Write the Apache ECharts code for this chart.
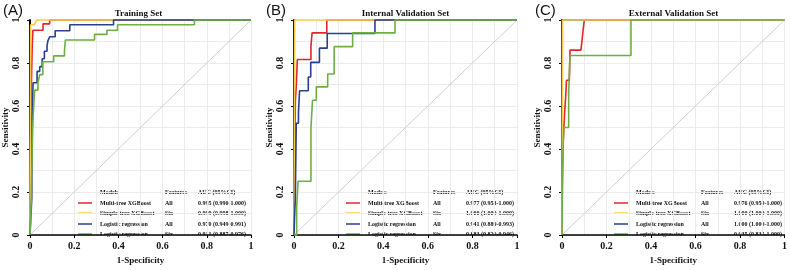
<!DOCTYPE html>
<html>
<head>
<meta charset="utf-8">
<script src="https://cdn.jsdelivr.net/npm/echarts@6/dist/echarts.min.js"></script>
<style>
  html, body { margin: 0; padding: 0; background: #fff; }
  #main { width: 790px; height: 270px; }
</style>
</head>
<body>
<div id="main"></div>
<script>
// ROC points [1-specificity, sensitivity]
var trainRed = [[0,0],[0.004,0],[0.004,0.58],[0.01,0.58],[0.01,0.88],[0.013,0.88],[0.013,0.952],[0.059,0.952],[0.059,0.982],[0.089,0.982],[0.089,1],[1,1]];
var trainYellow = [[0,0],[0.003,0],[0.003,0.978],[0.021,0.978],[0.03,1],[1,1]];
var trainBlue = [[0,0],[0.008,0],[0.008,0.17],[0.01,0.17],[0.01,0.55],[0.014,0.55],[0.014,0.708],[0.032,0.708],[0.032,0.761],[0.044,0.761],[0.044,0.783],[0.055,0.783],[0.055,0.82],[0.065,0.82],[0.065,0.855],[0.077,0.855],[0.077,0.88],[0.081,0.88],[0.081,0.903],[0.089,0.903],[0.089,0.922],[0.114,0.922],[0.114,0.95],[0.18,0.95],[0.18,0.978],[0.378,0.978],[0.378,1],[1,1]];
var trainGreen = [[0,0],[0.006,0],[0.006,0.17],[0.01,0.17],[0.01,0.4],[0.014,0.4],[0.014,0.55],[0.021,0.55],[0.021,0.674],[0.036,0.674],[0.036,0.708],[0.044,0.708],[0.044,0.746],[0.058,0.746],[0.058,0.806],[0.107,0.806],[0.107,0.833],[0.156,0.833],[0.156,0.858],[0.16,0.858],[0.16,0.907],[0.292,0.907],[0.292,0.933],[0.348,0.933],[0.348,0.952],[0.396,0.952],[0.396,0.978],[0.744,0.978],[0.744,1],[1,1]];

var intRed = [[0,0],[0.003,0],[0.003,0.37],[0.006,0.37],[0.006,0.62],[0.01,0.62],[0.01,0.69],[0.015,0.69],[0.015,0.816],[0.076,0.816],[0.076,0.876],[0.081,0.876],[0.081,0.94],[0.147,0.94],[0.147,1],[1,1]];
var intYellow = [[0,0],[0.003,0],[0.003,1],[1,1]];
var intBlue = [[0,0],[0.002,0],[0.002,0.07],[0.006,0.07],[0.006,0.17],[0.01,0.17],[0.01,0.52],[0.02,0.52],[0.02,0.57],[0.025,0.57],[0.025,0.671],[0.064,0.671],[0.064,0.735],[0.075,0.735],[0.075,0.803],[0.114,0.803],[0.114,0.869],[0.149,0.869],[0.149,0.937],[0.363,0.937],[0.363,1],[1,1]];
var intGreen = [[0,0],[0.012,0],[0.012,0.126],[0.018,0.126],[0.018,0.25],[0.076,0.25],[0.076,0.5],[0.083,0.5],[0.083,0.627],[0.1,0.627],[0.1,0.689],[0.151,0.689],[0.151,0.749],[0.18,0.749],[0.18,0.876],[0.263,0.876],[0.263,0.94],[0.453,0.94],[0.453,1],[1,1]];

var extRed = [[0,0],[0,0.14],[0.005,0.43],[0.012,0.57],[0.018,0.67],[0.02,0.72],[0.033,0.72],[0.036,0.86],[0.085,0.86],[0.1,1],[1,1]];
var extYellow = [[0,0],[0.003,0],[0.003,1],[1,1]];
var extBlue = [[0,0],[0,1],[1,1]];
var extGreen = [[0,0],[0.003,0],[0.003,0.33],[0.008,0.33],[0.008,0.5],[0.03,0.5],[0.03,0.664],[0.036,0.664],[0.036,0.835],[0.31,0.835],[0.31,1],[1,1]];

var diagonal = [[0,0],[1,1]];

var models = ['Multi-tree XGBoost', 'Simple-tree XGBoost', 'Logistic regression', 'Logistic regression'];
var features = ['All', 'Six', 'All', 'Six'];
var aucTrain = ['0.995 (0.990-1.000)', '0.999 (0.998-1.000)', '0.970 (0.949-0.991)', '0.931 (0.887-0.976)'];
var aucInt = ['0.977 (0.953-1.000)', '1.000 (1.000-1.000)', '0.941 (0.889-0.993)', '0.883 (0.820-0.946)'];
var aucExt = ['0.976 (0.950-1.000)', '1.000 (1.000-1.000)', '1.000 (1.000-1.000)', '0.935 (0.835-1.000)'];

var panelTitles = ['Training Set', 'Internal Validation Set', 'External Validation Set'];
var panelTags = ['(A)', '(B)', '(C)'];

var colors = ['#e2262c', '#f8cd4e', '#27408f', '#6cb043'];
var serif = 'Liberation Serif, Times New Roman, serif';

// layout of the three panels
var panels = [
  { left: 26, width: 225, tagX: 3, auc: aucTrain, curves: [trainRed, trainYellow, trainBlue, trainGreen], order: [0, 1, 2, 3] },
  { left: 294, width: 223, tagX: 266, auc: aucInt, curves: [intRed, intYellow, intBlue, intGreen], order: [0, 1, 2, 3] },
  { left: 562, width: 223, tagX: 535, auc: aucExt, curves: [extRed, extYellow, extBlue, extGreen], order: [2, 0, 1, 3] }
];
var gridTop = 20, gridHeight = 224;

var grids = [], xAxes = [], yAxes = [], series = [], titles = [], graphics = [];

panels.forEach(function(p, i){
  grids.push({ left: p.left, top: gridTop, width: p.width, height: gridHeight });
  xAxes.push({
    type: 'value', gridIndex: i, min: 0, max: 1, interval: 0.2,
    name: '1-Specificity', nameLocation: 'middle', nameGap: 21,
    nameTextStyle: { fontFamily: serif, fontWeight: 'bold', fontSize: 9, color: '#111' },
    axisLine: { show: true, onZero: false, lineStyle: { color: '#000', width: 1.5 } },
    axisTick: { show: true, length: 3, lineStyle: { color: '#000' } },
    axisLabel: { fontFamily: serif, fontWeight: 'bold', fontSize: 10, color: '#111', margin: 6 },
    splitLine: { show: true, lineStyle: { color: '#ececec', width: 1 } },
    minorTick: { show: false, splitNumber: 2 },
    minorSplitLine: { show: true, lineStyle: { color: '#ececec', width: 1 } }
  });
  yAxes.push({
    type: 'value', gridIndex: i, min: 0, max: 1, interval: 0.2,
    name: 'Sensitivity', nameLocation: 'middle', nameGap: 20,
    nameTextStyle: { fontFamily: serif, fontWeight: 'bold', fontSize: 9, color: '#111' },
    axisLine: { show: true, onZero: false, lineStyle: { color: '#000', width: 2 } },
    axisTick: { show: true, length: 3, lineStyle: { color: '#000' } },
    axisLabel: { fontFamily: serif, fontWeight: 'bold', fontSize: 10, color: '#111', rotate: 90, margin: 9 },
    splitLine: { show: true, lineStyle: { color: '#ececec', width: 1 } },
    minorTick: { show: false, splitNumber: 2 },
    minorSplitLine: { show: true, lineStyle: { color: '#ececec', width: 1 } }
  });
  series.push({
    type: 'line', xAxisIndex: i, yAxisIndex: i, data: diagonal, symbol: 'none', silent: true,
    lineStyle: { color: '#cfcfcf', width: 1 }, z: 1
  });
  p.order.forEach(function(k){
    series.push({
      type: 'line', xAxisIndex: i, yAxisIndex: i, data: p.curves[k], symbol: 'none',
      lineStyle: { color: colors[k], width: 1.6 }, clip: false
    });
  });
  titles.push({
    text: panelTitles[i], left: p.left + p.width / 2, top: 9, textAlign: 'center', padding: 0,
    textStyle: { fontFamily: serif, fontWeight: 'bold', fontSize: 9, color: '#111' }
  });
  titles.push({
    text: panelTags[i], left: p.tagX, top: 3, padding: 0,
    textStyle: { fontFamily: 'Liberation Sans, Arial, sans-serif', fontWeight: 'normal', fontSize: 15, color: '#111' }
  });

  // legend table inside the plot
  var lx = p.left, rowsY = [203, 213, 224, 234];
  var txt = function(x, y, s){
    return { type: 'text', x: x, y: y, style: { text: s, fill: '#111', font: 'bold 6px ' + serif, verticalAlign: 'middle' } };
  };
  graphics.push(txt(lx + 74, 192, 'Models'));
  graphics.push(txt(lx + 139, 192, 'Features'));
  graphics.push(txt(lx + 172, 192, 'AUC (95%CI)'));
  for (var r = 0; r < 4; r++) {
    graphics.push({ type: 'line', shape: { x1: lx + 52, y1: rowsY[r], x2: lx + 66, y2: rowsY[r] }, style: { stroke: colors[r], lineWidth: 1.5 } });
    graphics.push(txt(lx + 74, rowsY[r], models[r]));
    graphics.push(txt(lx + 139, rowsY[r], features[r]));
    graphics.push(txt(lx + 172, rowsY[r], p.auc[r]));
  }
});

var chart = echarts.init(document.getElementById('main'));
chart.setOption({
  animation: false,
  backgroundColor: '#fff',
  title: titles,
  grid: grids,
  xAxis: xAxes,
  yAxis: yAxes,
  series: series,
  graphic: graphics
});
</script>
</body>
</html>
